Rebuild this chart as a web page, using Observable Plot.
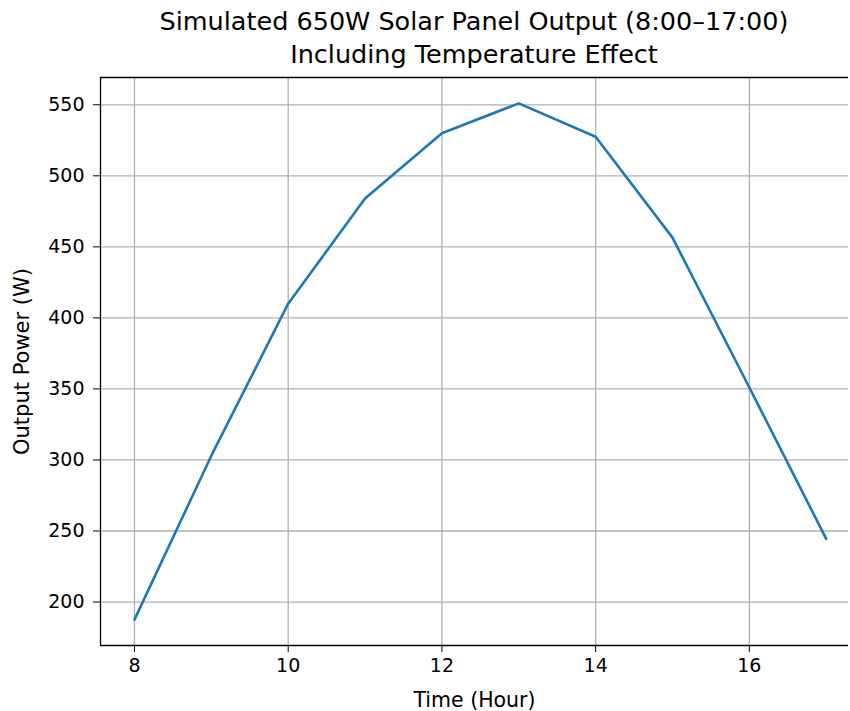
<!DOCTYPE html>
<html>
<head>
<meta charset="utf-8">
<script src="https://cdn.jsdelivr.net/npm/d3@7"></script>
<script src="https://cdn.jsdelivr.net/npm/@observablehq/plot@0.6"></script>
<style>
  body { margin: 0; background: #fff; }
  #wrap { position: relative; width: 850px; height: 711px; }
  #title {
    position: absolute; left: 100px; width: 748px; top: 5px;
    text-align: center; font-family: "DejaVu Sans", sans-serif;
    font-size: 25.5px; line-height: 33px; color: #000;
  }
</style>
</head>
<body>
<div id="wrap">
  <div id="title">Simulated 650W Solar Panel Output (8:00–17:00)<br>Including Temperature Effect</div>
</div>
<script>
const hours = [8, 9, 10, 11, 12, 13, 14, 15, 16, 17];
const power = [187.6, 303, 410, 484, 530, 551, 527.5, 456.5, 351, 244.5];
const xTicks = [8, 10, 12, 14, 16];
const yTicks = [200, 250, 300, 350, 400, 450, 500, 550];

const data = hours.map((h, i) => ({hour: h, power: power[i]}));
const xDomain = [7.558, 17.29];
const yDomain = [169.4, 569.2];

const chart = Plot.plot({
  width: 850,
  height: 711,
  marginLeft: 100,
  marginRight: 2,
  marginTop: 77,
  marginBottom: 66,
  style: {fontFamily: "DejaVu Sans, sans-serif", fontSize: "19px", color: "#000", background: "transparent"},
  x: {domain: xDomain},
  y: {domain: yDomain},
  marks: [
    Plot.gridX(xTicks, {stroke: "#b0b0b0", strokeOpacity: 1, strokeWidth: 1.3}),
    Plot.gridY(yTicks, {stroke: "#b0b0b0", strokeOpacity: 1, strokeWidth: 1.3}),
    Plot.line(data, {x: "hour", y: "power", stroke: "#1f77b4", strokeWidth: 2.6}),
    Plot.ruleX([xDomain[0]], {stroke: "#000", strokeWidth: 1.3}),
    Plot.ruleY([yDomain[0], yDomain[1]], {stroke: "#000", strokeWidth: 1.3}),
    Plot.axisX(xTicks, {tickSize: 7, tickPadding: 6, fontSize: 19, label: null}),
    Plot.axisY(yTicks, {tickSize: 7, tickPadding: 9, fontSize: 19, label: null}),
    Plot.text(["Time (Hour)"], {frameAnchor: "bottom", dy: 55, fontSize: 20.5, text: d => d, lineAnchor: "middle", textAnchor: "middle"}),
    Plot.text(["Output Power (W)"], {frameAnchor: "left", dx: -78, rotate: -90, fontSize: 21, text: d => d, lineAnchor: "middle", textAnchor: "middle"})
  ]
});
document.getElementById("wrap").prepend(chart);
</script>
</body>
</html>
